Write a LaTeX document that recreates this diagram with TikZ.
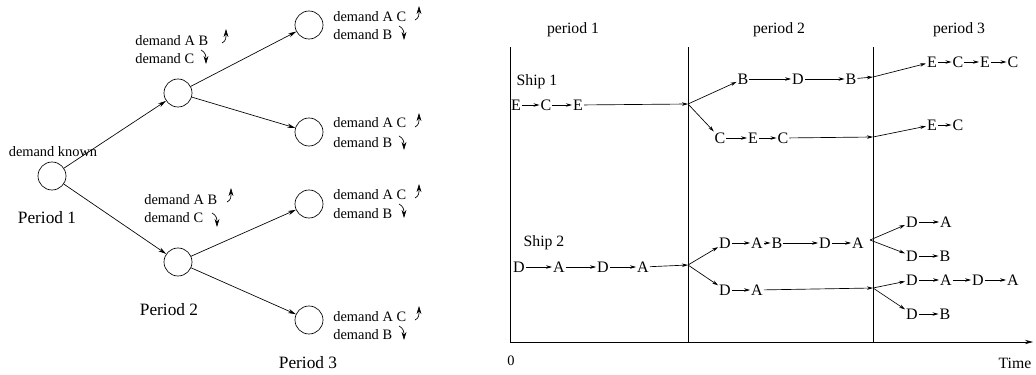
\documentclass[tikz,border=0pt]{standalone}
\usepackage{fontspec}
\setmainfont{Liberation Serif}
\usetikzlibrary{arrows.meta}

\begin{document}
\begin{tikzpicture}[
  x=0.75pt, y=-0.75pt,
  line width=0.5pt,
  font=\fontsize{10.8}{13}\selectfont,
  >={Stealth[length=6pt, width=3.2pt]},
  state/.style={circle, draw, minimum size=21pt, inner sep=0pt},
  dem-lbl/.style={anchor=west, inner sep=0pt},
  per-lbl/.style={font=\fontsize{13}{15}\selectfont},
  stop/.style={inner sep=0.6pt, font=\fontsize{12}{14}\selectfont},
  hop/.style={->, >={Stealth[length=4.5pt, width=2.6pt]}},
  axis-lbl/.style={font=\fontsize{11.8}{14}\selectfont},
  rise/.pic={\draw[-{Stealth[length=6pt, width=3.6pt]}]
    (-4,6) .. controls (0,4) and (0,1) .. (0,-8);},
  fall/.pic={\draw[-{Stealth[length=6pt, width=3.6pt]}]
    (-5,-7) .. controls (-1,-5) and (0,-2) .. (0,7);}
]
  \useasboundingbox (0,0) rectangle (1036,375);

  % ===========================================================
  % LEFT: scenario tree
  % ===========================================================
  \node[state] (root) at ( 52,176) {};
  \node[state] (up)   at (178, 93) {};
  \node[state] (dn)   at (178,262) {};
  \node[state] (uu)   at (309, 25) {};
  \node[state] (ud)   at (309,132) {};
  \node[state] (du)   at (309,204) {};
  \node[state] (dd)   at (309,320) {};

  \draw[->] (root) -- (up);
  \draw[->] (root) -- (dn);
  \draw[->] (up) -- (uu);
  \draw[->] (up) -- (ud);
  \draw[->] (dn) -- (du);
  \draw[->] (dn) -- (dd);

  \node (known) at (53,152) {demand known};
  \node[per-lbl] (p1) at ( 47,218) {Period 1};
  \node[per-lbl] (p2) at (169,310) {Period 2};
  \node[per-lbl] (p3) at (308,363) {Period 3};

  % demand labels of period 2
  \node[dem-lbl] at (135,41) {demand A B};
  \node[dem-lbl] at (135,59) {demand C};
  \pic at (226,37) {rise};
  \pic at (206,57) {fall};

  \node[dem-lbl] at (144,200) {demand A B};
  \node[dem-lbl] at (144,218) {demand C};
  \pic at (231,196) {rise};
  \pic at (217,220) {fall};

  % demand labels of period 3
  \node[dem-lbl] at (333, 17) {demand A C};
  \node[dem-lbl] at (333, 35) {demand B};
  \pic at (419, 14) {rise};
  \pic at (404, 33) {fall};

  \node[dem-lbl] at (333,123) {demand A C};
  \node[dem-lbl] at (333,143) {demand B};
  \pic at (419,121) {rise};
  \pic at (404,143) {fall};

  \node[dem-lbl] at (333,195) {demand A C};
  \node[dem-lbl] at (333,214) {demand B};
  \pic at (419,192) {rise};
  \pic at (404,211) {fall};

  \node[dem-lbl] at (333,317) {demand A C};
  \node[dem-lbl] at (333,335) {demand B};
  \pic at (419,314) {rise};
  \pic at (404,333) {fall};

  % ===========================================================
  % RIGHT: ship routes over time
  % ===========================================================
  \coordinate (t0) at (510,342);
  \coordinate (t1) at (688,342);
  \coordinate (t2) at (873,342);
  \coordinate (tend) at (1033,342);

  \draw (510,47) -- (t0);
  \draw (688,47) -- (t1);
  \draw (873,47) -- (t2);
  \draw[->] (t0) -- (tend);

  \node (zero) at (511,361) {0};
  \node[axis-lbl] (time) at (1015,363) {Time};
  \node[axis-lbl] at (573,30) {period 1};
  \node[axis-lbl] at (779,30) {period 2};
  \node[axis-lbl] at (959,30) {period 3};

  % branch points on the period borders
  \coordinate (j1) at (688,104);
  \coordinate (j2) at (873, 77);
  \coordinate (j3) at (873,137);
  \coordinate (j4) at (688,265);
  \coordinate (j5) at (870,240);
  \coordinate (j6) at (873,288);

  % ---- Ship 1 ----
  \node[axis-lbl] at (537,82) {Ship 1};
  \node[stop] (a1) at (516,105) {E};
  \node[stop] (a2) at (546,105) {C};
  \node[stop] (a3) at (578,105) {E};
  \draw[hop] (a1) -- (a2);
  \draw[hop] (a2) -- (a3);
  \draw[hop] (a3) -- (j1);

  \node[stop] (b1) at (743,79) {B};
  \node[stop] (b2) at (798,79) {D};
  \node[stop] (b3) at (851,79) {B};
  \draw[hop] (j1) -- (b1);
  \draw[hop] (b1) -- (b2);
  \draw[hop] (b2) -- (b3);
  \draw[hop] (b3) -- (j2);

  \node[stop] (c1) at (720,138) {C};
  \node[stop] (c2) at (753,138) {E};
  \node[stop] (c3) at (783,138) {C};
  \draw[hop] (j1) -- (c1);
  \draw[hop] (c1) -- (c2);
  \draw[hop] (c2) -- (c3);
  \draw[hop] (c3) -- (j3);

  \node[stop] (d1) at ( 932,62) {E};
  \node[stop] (d2) at ( 958,62) {C};
  \node[stop] (d3) at ( 985,62) {E};
  \node[stop] (d4) at (1013,62) {C};
  \draw[hop] (j2) -- (d1);
  \draw[hop] (d1) -- (d2);
  \draw[hop] (d2) -- (d3);
  \draw[hop] (d3) -- (d4);

  \node[stop] (e1) at (932,125) {E};
  \node[stop] (e2) at (958,125) {C};
  \draw[hop] (j3) -- (e1);
  \draw[hop] (e1) -- (e2);

  % ---- Ship 2 ----
  \node[axis-lbl] at (544,243) {Ship 2};
  \node[stop] (f1) at (519,267) {D};
  \node[stop] (f2) at (559,267) {A};
  \node[stop] (f3) at (603,267) {D};
  \node[stop] (f4) at (643,267) {A};
  \draw[hop] (f1) -- (f2);
  \draw[hop] (f2) -- (f3);
  \draw[hop] (f3) -- (f4);
  \draw[hop] (f4) -- (j4);

  \node[stop] (g1) at (725,243) {D};
  \node[stop] (g2) at (757,243) {A};
  \node[stop] (g3) at (777,243) {B};
  \node[stop] (g4) at (825,243) {D};
  \node[stop] (g5) at (858,243) {A};
  \draw[hop] (j4) -- (g1);
  \draw[hop] (g1) -- (g2);
  \draw[hop] (g2) -- (g3);
  \draw[hop] (g3) -- (g4);
  \draw[hop] (g4) -- (g5);

  \node[stop] (h1) at (725,290) {D};
  \node[stop] (h2) at (757,290) {A};
  \draw[hop] (j4) -- (h1);
  \draw[hop] (h1) -- (h2);
  \draw[hop] (h2) -- (j6);

  \node[stop] (k1) at (912,222) {D};
  \node[stop] (k2) at (946,222) {A};
  \draw[hop] (j5) -- (k1);
  \draw[hop] (k1) -- (k2);

  \node[stop] (m1) at (912,256) {D};
  \node[stop] (m2) at (945,256) {B};
  \draw[hop] (j5) -- (m1);
  \draw[hop] (m1) -- (m2);

  \node[stop] (n1) at ( 912,280) {D};
  \node[stop] (n2) at ( 946,280) {A};
  \node[stop] (n3) at ( 978,280) {D};
  \node[stop] (n4) at (1013,280) {A};
  \draw[hop] (j6) -- (n1);
  \draw[hop] (n1) -- (n2);
  \draw[hop] (n2) -- (n3);
  \draw[hop] (n3) -- (n4);

  \node[stop] (q1) at (912,314) {D};
  \node[stop] (q2) at (945,314) {B};
  \draw[hop] (j6) -- (q1);
  \draw[hop] (q1) -- (q2);

\end{tikzpicture}
\end{document}
